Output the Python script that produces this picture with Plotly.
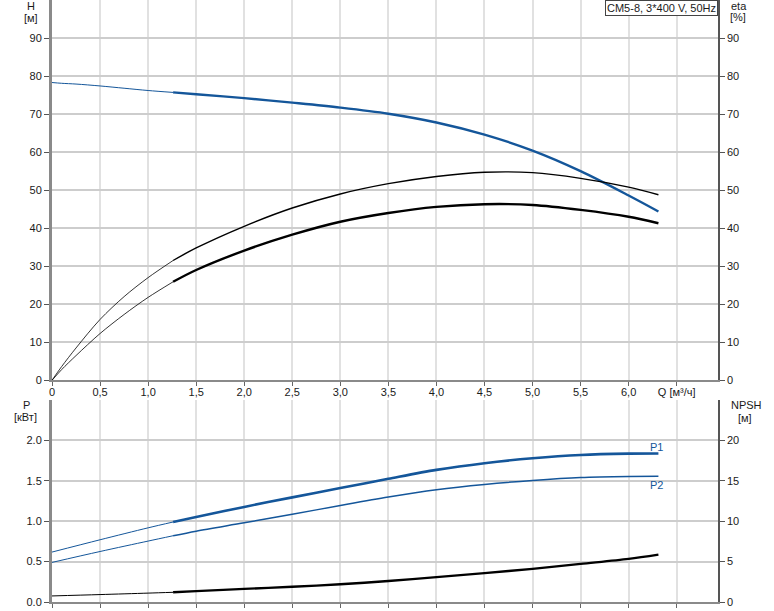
import plotly.graph_objects as go

# ---------------- data ----------------
q_top = [0, 0.1, 0.25, 0.5, 0.75, 1.0, 1.26, 1.5, 2.0, 2.5, 3.0, 3.5, 4.0, 4.5, 5.0, 5.5, 6.0, 6.31]
head = [78.3, 78.1, 77.9, 77.4, 76.8, 76.2, 75.7, 75.2, 74.2, 73.0, 71.7, 70.1, 67.8, 64.6, 60.4, 55.0, 48.6, 44.4]
eta_pump = [0, 3.6, 8.5, 16.0, 22.0, 27.0, 31.5, 34.8, 40.5, 45.3, 49.0, 51.7, 53.6, 54.7, 54.6, 53.1, 50.8, 48.8]
eta_total = [0, 2.8, 6.5, 12.3, 17.3, 21.8, 25.9, 29.0, 34.1, 38.3, 41.7, 44.0, 45.6, 46.3, 46.1, 44.8, 43.0, 41.3]

q_bot = [0, 0.5, 1.0, 1.26, 1.5, 2.0, 2.5, 3.0, 3.5, 4.0, 4.5, 5.0, 5.5, 6.0, 6.31]
p1 = [0.618, 0.77, 0.918, 0.99, 1.052, 1.177, 1.295, 1.41, 1.525, 1.635, 1.718, 1.779, 1.82, 1.836, 1.838]
p2 = [0.49, 0.625, 0.754, 0.82, 0.877, 0.98, 1.085, 1.195, 1.30, 1.39, 1.455, 1.504, 1.54, 1.553, 1.555]
npsh = [0.75, 0.92, 1.1, 1.2, 1.35, 1.62, 1.88, 2.2, 2.6, 3.08, 3.57, 4.1, 4.72, 5.34, 5.87]

q_min = 1.26  # start of the recommended (thick) range

q_ticks = [0, 0.5, 1.0, 1.5, 2.0, 2.5, 3.0, 3.5, 4.0, 4.5, 5.0, 5.5, 6.0, 6.5]
q_ticktext = ["0", "0,5", "1,0", "1,5", "2,0", "2,5", "3,0", "3,5", "4,0", "4,5", "5,0", "5,5", "6,0", "Q [м³/ч]"]
h_ticks = [0, 10, 20, 30, 40, 50, 60, 70, 80, 90]
p_ticks = [0, 0.5, 1.0, 1.5, 2.0]
p_ticktext = ["0.0", "0.5", "1.0", "1.5", "2.0"]
npsh_ticks = [0, 5, 10, 15, 20]
title_text = "CM5-8, 3*400 V, 50Hz"

# ---------------- style ----------------
BLUE = "#14569a"
BLACK = "#000000"
FONT = "Liberation Sans, Arial, sans-serif"
TXT = "#1a1a1a"

W, H = 774, 611
L, R, T, B = 52, 56, 0, 9
PW, PH = W - L - R, H - T - B


def px_x(px):
    return (px - L) / PW


def px_y(py):
    return (H - B - py) / PH


def split(qs, ys, qsplit):
    i = qs.index(qsplit)
    return (qs[:i + 1], ys[:i + 1]), (qs[i:], ys[i:])


fig = go.Figure()


def add_curve(qs, ys, color, thin_w, thick_w, xa, ya):
    (qa, ya_), (qb, yb) = split(qs, ys, q_min)
    fig.add_trace(go.Scatter(x=qa, y=ya_, mode="lines",
                             line=dict(color=color, width=thin_w, shape="spline", smoothing=0.9),
                             xaxis=xa, yaxis=ya, showlegend=False, hoverinfo="skip"))
    fig.add_trace(go.Scatter(x=qb, y=yb, mode="lines",
                             line=dict(color=color, width=thick_w, shape="spline", smoothing=0.9),
                             xaxis=xa, yaxis=ya, showlegend=False, hoverinfo="skip"))


add_curve(q_top, eta_pump, BLACK, 0.8, 1.4, "x", "y2")
add_curve(q_top, eta_total, BLACK, 0.8, 2.4, "x", "y2")
add_curve(q_top, head, BLUE, 1.0, 2.4, "x", "y")
add_curve(q_bot, npsh, BLACK, 1.0, 2.4, "x2", "y4")
add_curve(q_bot, p2, BLUE, 1.0, 1.5, "x2", "y3")
add_curve(q_bot, p1, BLUE, 1.0, 2.6, "x2", "y3")

XR = [0, 6.93]
top_dom = [px_y(380.3), 1.0]
bot_dom = [0.0, px_y(400)]

tickfont = dict(family=FONT, size=11, color=TXT)
xcommon = dict(range=XR, tickvals=q_ticks, tickmode="array", showgrid=True, gridcolor="#e1e1e1", gridwidth=2,
               zeroline=False, showline=True, linecolor="#8a8a8a", linewidth=2,
               ticks="outside", ticklen=4, tickcolor="#666", tickfont=tickfont, fixedrange=True)
ycommon = dict(zeroline=False, ticks="outside", ticklen=5, tickcolor="#555", tickfont=tickfont, fixedrange=True)

fig.update_layout(
    width=W, height=H,
    margin=dict(l=L, r=R, t=T, b=B),
    paper_bgcolor="white", plot_bgcolor="white",
    font=dict(family=FONT, size=11, color=TXT),
    showlegend=False,
    xaxis=dict(**xcommon, domain=[0, 1], anchor="y", ticktext=q_ticktext, ticklabelstandoff=-4),
    xaxis2=dict(**xcommon, domain=[0, 1], anchor="y3", showticklabels=False),
    yaxis=dict(**ycommon, domain=top_dom, anchor="x", range=[0, 100], tickvals=h_ticks,
               showgrid=True, gridcolor="#cdcdcd", gridwidth=1.5,
               showline=True, linecolor="#8a8a8a", linewidth=3),
    yaxis2=dict(**ycommon, overlaying="y", side="right", anchor="x", range=[0, 100], tickvals=h_ticks,
                showgrid=False, showline=True, linecolor="#555", linewidth=1.5),
    yaxis3=dict(**ycommon, domain=bot_dom, anchor="x2", range=[0, 2.5], tickvals=p_ticks, ticktext=p_ticktext,
                tickmode="array", showgrid=True, gridcolor="#cdcdcd", gridwidth=1.5,
                showline=True, linecolor="#8a8a8a", linewidth=3),
    yaxis4=dict(**ycommon, overlaying="y3", side="right", anchor="x2", range=[0, 25], tickvals=npsh_ticks,
                showgrid=False, showline=True, linecolor="#555", linewidth=1.5),
)

ann_font = dict(family=FONT, size=11, color=TXT)
labels = [
    ("H", 31, 6), ("[м]", 31, 18),
    ("eta", 739, 6), ("[%]", 738, 17),
    ("P", 26, 405), ("[кВт]", 25, 417),
    ("NPSH", 746, 405), ("[м]", 745, 418),
]
for txt, x, y in labels:
    fig.add_annotation(text=txt, x=px_x(x), y=px_y(y), xref="paper", yref="paper",
                       xanchor="center", yanchor="middle", showarrow=False, font=ann_font)

fig.add_annotation(text="P1", x=px_x(656), y=px_y(447), xref="paper", yref="paper",
                   xanchor="center", yanchor="middle", showarrow=False,
                   font=dict(family=FONT, size=11, color=BLUE))
fig.add_annotation(text="P2", x=px_x(656), y=px_y(485), xref="paper", yref="paper",
                   xanchor="center", yanchor="middle", showarrow=False,
                   font=dict(family=FONT, size=11, color=BLUE))

fig.add_annotation(text=title_text, x=1.0, y=1.0, xref="paper", yref="paper",
                   xanchor="right", yanchor="top", showarrow=False,
                   font=dict(family=FONT, size=11, color=TXT),
                   bgcolor="white", bordercolor="#444", borderwidth=1, borderpad=1)

fig.write_html("out.html", config={"displayModeBar": False},
               post_script="document.body.style.margin='0';document.body.style.overflow='hidden';")
